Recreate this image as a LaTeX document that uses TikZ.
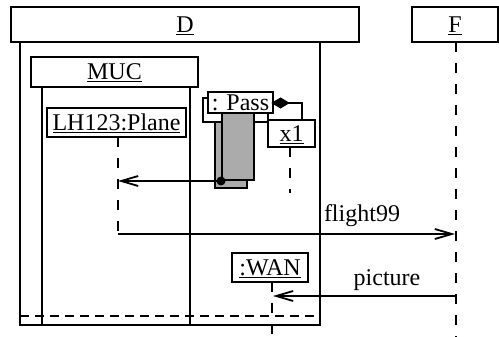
\documentclass[tikz,border=0pt]{standalone}
\usepackage{fontspec}
\setmainfont{Liberation Serif}
\usetikzlibrary{arrows.meta}
\begin{document}
\begin{tikzpicture}[x=1pt,y=-1pt,line width=1.8pt,
  txt/.style={font=\fontsize{24}{27}\selectfont},
  box/.style={draw,fill=white,inner sep=0pt,txt,text height=16pt,text depth=0pt},
  life/.style={dash pattern=on 10pt off 11pt},
  hdash/.style={dash pattern=on 9pt off 6pt},
  msg/.style={-{Straight Barb[length=17pt,width=10pt,line width=1.8pt]}},
  act/.style={draw,fill=black!33}]
\useasboundingbox (0,0) rectangle (499,337);
% frames
\node[box,minimum width=348pt,minimum height=35pt] (D) at (185,24.5) {\underline{D}};
\node[box,minimum width=86pt,minimum height=35pt] (F) at (455,24.5) {\underline{F}};
\draw (20,42) -- (20,325) -- (320,325) -- (320,42);
\node[box,minimum width=167pt,minimum height=30pt] (MUC) at (114.5,72) {\underline{MUC}};
\draw (42,87) -- (42,325);
\draw (190,87) -- (190,325);
\draw[hdash] (20,316) -- (320,316);
% lifelines
\draw[life] (456,42) -- (456,337);
\node[box,minimum width=139pt,minimum height=29pt] (LH) at (116.5,122.5) {\underline{LH123:Plane}};
\coordinate (lhturn) at (118,234);
\coordinate (lhmsg) at (118,181);
\draw[life] (118,137) -- (lhturn);
% Pass
\node[draw,fill=white,minimum width=65pt,minimum height=24pt,inner sep=0pt] (Pback) at (235.5,110) {};
\node[act,minimum width=32pt,minimum height=66pt,inner sep=0pt] (Aback) at (231,155) {};
\node[act,minimum width=32pt,minimum height=67pt,inner sep=0pt] (Afront) at (238,146.5) {};
\node[box,minimum width=65pt,minimum height=21pt] (Pass) at (240.5,102.5) {\underline{: Pass}};
\node[box,minimum width=47pt,minimum height=27pt] (x1) at (291.5,133.5) {\underline{x1}};
\draw[life] (290,147) -- (290,193);
\draw[fill=black] (273,103) -- (280.5,98.5) -- (288,103) -- (280.5,107.5) -- cycle;
\coordinate (dia) at (288,103);
\draw (dia) -- (302,103) -- (302,120);
\fill (221,181) circle (4.5pt) coordinate (dot);
\draw[msg] (dot) -- (lhmsg);
% flight99
\coordinate (fflight) at (455,234);
\draw[msg] (lhturn) -- (fflight);
\node[txt,anchor=base] (l1) at (362,222) {flight99};
% WAN
\node[box,minimum width=76pt,minimum height=29pt] (WAN) at (270,267.5) {\underline{:WAN}};
\draw[life] (272,282) -- (272,337);
\coordinate (fpic) at (457,296);
\coordinate (wpic) at (273,296);
\draw[msg] (fpic) -- (wpic);
\node[txt,anchor=base] (l2) at (387,285) {picture};
\end{tikzpicture}
\end{document}
